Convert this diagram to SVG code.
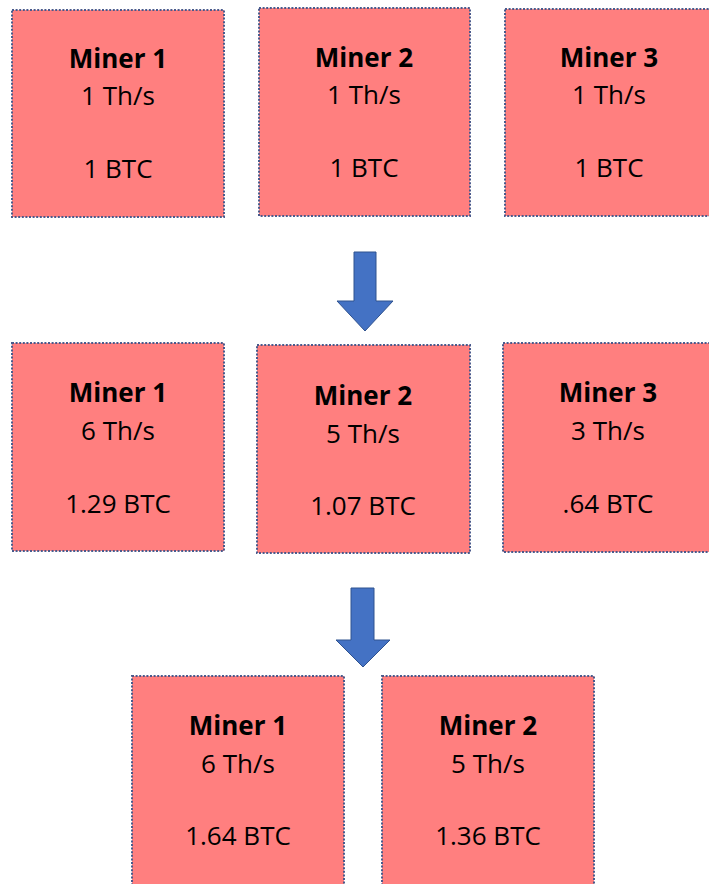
<svg xmlns="http://www.w3.org/2000/svg" width="709" height="884" viewBox="0 0 709 884">
<style>
.box{fill:#FF7F7F;stroke:#4A5A8C;stroke-width:2;stroke-dasharray:2 1.6}
.t{font-family:"Open Sans","Liberation Sans",Arial,sans-serif;font-size:26px;fill:#000;text-anchor:middle}
.b{font-weight:bold}
.arrow{fill:#4472C4;stroke:#2F528F;stroke-width:1}
</style>
<rect width="709" height="884" fill="#fff"/>
<g id="r1m1"><rect class="box" x="12" y="10" width="212" height="207"/>
<text class="t b" x="118" y="68">Miner 1</text><text class="t" x="118" y="105">1 Th/s</text><text class="t" x="118" y="178">1 BTC</text></g>
<g id="r1m2"><rect class="box" x="259" y="8" width="211" height="208"/>
<text class="t b" x="364" y="67">Miner 2</text><text class="t" x="364" y="104">1 Th/s</text><text class="t" x="364" y="177">1 BTC</text></g>
<g id="r1m3"><rect class="box" x="505" y="9" width="210" height="207"/>
<text class="t b" x="609" y="67">Miner 3</text><text class="t" x="609" y="104">1 Th/s</text><text class="t" x="609" y="177">1 BTC</text></g>
<g id="r2m1"><rect class="box" x="12" y="343" width="212" height="208"/>
<text class="t b" x="118" y="402">Miner 1</text><text class="t" x="118" y="440">6 Th/s</text><text class="t" x="118" y="513">1.29 BTC</text></g>
<g id="r2m2"><rect class="box" x="257" y="345" width="213" height="208"/>
<text class="t b" x="363" y="405">Miner 2</text><text class="t" x="363" y="443">5 Th/s</text><text class="t" x="363" y="515">1.07 BTC</text></g>
<g id="r2m3"><rect class="box" x="503" y="343" width="212" height="209"/>
<text class="t b" x="608" y="402">Miner 3</text><text class="t" x="608" y="440">3 Th/s</text><text class="t" x="608" y="513">.64 BTC</text></g>
<g id="r3m1"><rect class="box" x="132" y="676" width="212" height="215"/>
<text class="t b" x="238" y="735">Miner 1</text><text class="t" x="238" y="773">6 Th/s</text><text class="t" x="238" y="845">1.64 BTC</text></g>
<g id="r3m2"><rect class="box" x="382" y="676" width="212" height="215"/>
<text class="t b" x="488" y="735">Miner 2</text><text class="t" x="488" y="773">5 Th/s</text><text class="t" x="488" y="845">1.36 BTC</text></g>
<g id="connectors">
<path class="arrow" d="M354,252 H376 V301 H393 L365,331 L337,301 H354 Z"/>
<path class="arrow" d="M351,588 H374 V640 H390 L363,667 L336,640 H351 Z"/>
</g>
</svg>
